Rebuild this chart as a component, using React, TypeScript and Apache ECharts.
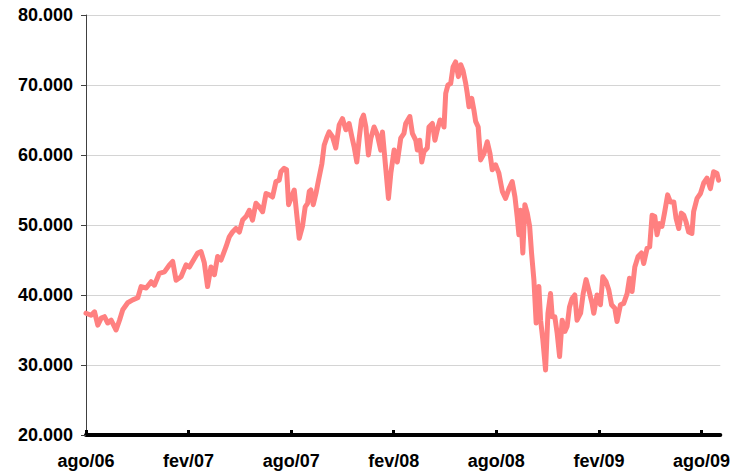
import { useEffect, useRef } from 'react';
import * as echarts from 'echarts';

// months counted from ago/06
const monthOffsets = [
  0, 0.3, 0.5, 0.69, 0.89, 1.08, 1.27, 1.47, 1.76, 1.96, 2.15, 2.44, 2.73, 3.03, 3.22, 3.52, 3.81, 4.0, 4.29, 4.59,
  4.88, 5.07, 5.27, 5.56, 5.85, 6.05, 6.34, 6.53, 6.73, 6.92, 7.11, 7.31, 7.51, 7.7, 7.9, 8.19, 8.38, 8.57, 8.77, 8.97,
  9.16, 9.36, 9.55, 9.74, 9.94, 10.13, 10.33, 10.53, 10.72, 10.91, 11.11, 11.3, 11.4, 11.59, 11.73, 11.85, 11.99, 12.18, 12.28, 12.47,
  12.66, 12.82, 12.96, 13.06, 13.15, 13.29, 13.45, 13.6, 13.8, 13.93, 14.07, 14.22, 14.42, 14.61, 14.81, 15.0, 15.2, 15.39, 15.55, 15.68,
  15.84, 15.98, 16.11, 16.23, 16.37, 16.52, 16.66, 16.85, 17.04, 17.24, 17.34, 17.54, 17.69, 17.83, 18.02, 18.21, 18.41, 18.6, 18.7, 18.94,
  19.09, 19.29, 19.38, 19.52, 19.64, 19.77, 19.96, 20.06, 20.26, 20.41, 20.55, 20.71, 20.84, 20.94, 21.04, 21.17, 21.33, 21.47, 21.62, 21.78,
  21.92, 22.05, 22.21, 22.3, 22.4, 22.56, 22.69, 22.79, 22.94, 23.08, 23.28, 23.47, 23.63, 23.76, 23.96, 24.15, 24.35, 24.54, 24.74, 24.93,
  25.09, 25.22, 25.32, 25.42, 25.55, 25.67, 25.81, 25.95, 26.06, 26.2, 26.33, 26.49, 26.59, 26.72, 26.88, 27.02, 27.17, 27.27, 27.42, 27.56,
  27.7, 27.85, 28.01, 28.14, 28.28, 28.43, 28.59, 28.72, 28.93, 29.08, 29.25, 29.41, 29.6, 29.7, 29.89, 30.09, 30.23, 30.42, 30.58, 30.74,
  30.93, 31.06, 31.26, 31.45, 31.65, 31.79, 31.94, 32.1, 32.29, 32.49, 32.62, 32.82, 32.97, 33.11, 33.27, 33.4, 33.54, 33.69, 33.85, 34.02,
  34.18, 34.38, 34.51, 34.67, 34.82, 34.96, 35.09, 35.25, 35.44, 35.54, 35.74, 35.94, 36.13, 36.32, 36.52, 36.71, 36.9, 37.0,
];

const indexValues = [
  37400, 37100, 37600, 35700, 36700, 36900, 36000, 36400, 35000, 36400, 37900, 38900, 39300, 39600, 41200, 41000, 41900, 41400, 43100, 43300,
  44300, 44800, 42100, 42600, 44300, 44000, 45200, 46000, 46200, 44600, 41200, 44000, 42900, 45500, 45000, 46900, 48300, 49000, 49500, 49000,
  50700, 51200, 52100, 50700, 53100, 52600, 51900, 54500, 54300, 54000, 56200, 56400, 57600, 58100, 57900, 52900, 53800, 55000, 52600, 48100,
  49800, 52600, 53100, 54800, 55000, 52900, 54500, 56400, 58800, 61400, 62400, 63300, 62600, 61000, 64300, 65200, 63600, 64500, 62600, 61200,
  59000, 62400, 65000, 65700, 64000, 60000, 62400, 64000, 62900, 60700, 63300, 57900, 53800, 57400, 60700, 59000, 62400, 63100, 64500, 65500,
  63100, 62100, 60700, 62100, 59000, 60500, 61000, 64000, 64500, 62100, 63600, 65000, 64800, 64000, 68800, 70000, 70200, 72600, 73300, 71200,
  72900, 72100, 70200, 68800, 66900, 68100, 66400, 64800, 64000, 59300, 60200, 61900, 60200, 57900, 58600, 57400, 54800, 53800, 55200, 56200,
  54000, 51200, 48600, 52100, 46000, 52900, 51700, 49800, 46000, 42100, 36000, 41200, 36400, 33600, 29300, 37400, 40200, 36900, 36900, 34500,
  31200, 36400, 34800, 35500, 38300, 39500, 40000, 36400, 37400, 40200, 42200, 40700, 38800, 37400, 40000, 38600, 42600, 41900, 40700, 38600,
  38100, 36200, 38600, 38800, 40200, 42400, 40500, 44000, 45500, 46000, 44500, 46700, 46900, 51400, 51200, 48600, 50200, 49800, 51900, 54300,
  53300, 53300, 51000, 49500, 51700, 51400, 50500, 49000, 48800, 51900, 53800, 54500, 56000, 56700, 55200, 57600, 57400, 56400,
];

const xTickMonths = [0, 6, 12, 18, 24, 30, 36];
const xTickLabels = ['ago/06', 'fev/07', 'ago/07', 'fev/08', 'ago/08', 'fev/09', 'ago/09'];

const FONT = '"Liberation Sans", Arial, sans-serif';

const App = () => {
  const chartRef = useRef<HTMLDivElement>(null);

  useEffect(() => {
    document.body.style.margin = '0';
    if (!chartRef.current) return;
    const chart = echarts.init(chartRef.current, null, { renderer: 'svg' });

    chart.setOption({
      animation: false,
      backgroundColor: '#ffffff',
      grid: { left: 86, right: 12, top: 15, bottom: 41 },
      xAxis: {
        type: 'value',
        min: 0,
        max: 37.1,
        interval: 6,
        axisLine: { lineStyle: { color: '#000', width: 4, cap: 'round' } },
        axisTick: {
          inside: true,
          length: 5,
          customValues: xTickMonths,
          lineStyle: { color: '#000', width: 3 },
        },
        splitLine: { show: false },
        axisLabel: {
          customValues: xTickMonths,
          formatter: (v: number) => xTickLabels[xTickMonths.indexOf(Math.round(v))] ?? '',
          color: '#000',
          fontFamily: FONT,
          fontWeight: 'bold',
          fontSize: 18,
          margin: 17,
        },
      },
      yAxis: {
        type: 'value',
        min: 20000,
        max: 80000,
        interval: 10000,
        axisLine: { show: true, lineStyle: { color: '#404040', width: 1 } },
        axisTick: { show: true, length: 5, lineStyle: { color: '#404040', width: 1 } },
        splitLine: { lineStyle: { color: '#d4d4d4', width: 1 } },
        axisLabel: {
          formatter: (v: number) => `${v / 1000}.000`,
          color: '#000',
          fontFamily: FONT,
          fontWeight: 'bold',
          fontSize: 18,
          margin: 13,
        },
      },
      series: [
        {
          type: 'line',
          data: monthOffsets.map((m, i) => [m, indexValues[i]]),
          showSymbol: false,
          lineStyle: { color: '#ff8080', width: 5, cap: 'round', join: 'round' },
          z: 1,
        },
      ],
    });

    return () => {
      chart.dispose();
    };
  }, []);

  return <div ref={chartRef} style={{ width: '733px', height: '476px' }} />;
};

export default App;
